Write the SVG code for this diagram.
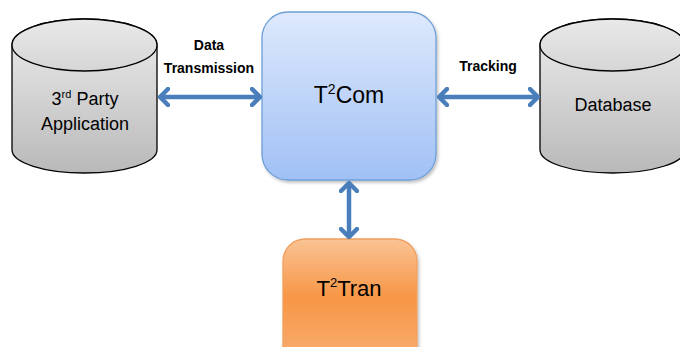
<svg xmlns="http://www.w3.org/2000/svg" width="680" height="347" viewBox="0 0 680 347">
<defs>
<linearGradient id="gBody" x1="0" y1="0" x2="0" y2="1">
<stop offset="0" stop-color="#ededed"/><stop offset="1" stop-color="#b9b9b9"/>
</linearGradient>
<linearGradient id="gTop" x1="0" y1="0" x2="0" y2="1">
<stop offset="0" stop-color="#e9e9e9"/><stop offset="1" stop-color="#d6d6d6"/>
</linearGradient>
<linearGradient id="gBlue" x1="0" y1="0" x2="0" y2="1">
<stop offset="0" stop-color="#dee9fc"/><stop offset="1" stop-color="#a0c0f5"/>
</linearGradient>
<linearGradient id="gOrange" x1="0" y1="0" x2="0" y2="1">
<stop offset="0" stop-color="#fac394"/><stop offset="0.45" stop-color="#f79646"/><stop offset="1" stop-color="#f9b078"/>
</linearGradient>
<marker id="ah" viewBox="0 0 12 20" refX="10" refY="10" markerWidth="12" markerHeight="20" markerUnits="userSpaceOnUse" orient="auto-start-reverse">
<path d="M2 2 L10 10 L2 18" fill="none" stroke="#4a7ebb" stroke-width="4.5" stroke-linecap="round" stroke-linejoin="round"/>
</marker>
<filter id="sh" x="-10%" y="-10%" width="125%" height="125%">
<feDropShadow dx="1.5" dy="2" stdDeviation="1.5" flood-color="#000" flood-opacity="0.25"/>
</filter>
</defs>
<style>
.cyl{fill:url(#gBody);stroke:#000;stroke-width:1.3}
.cylTop{fill:url(#gTop);stroke:#000;stroke-width:1.3}
.node{font-family:"Liberation Sans",Arial,sans-serif;fill:#000;text-anchor:middle}
.lbl{font-family:"Liberation Sans",Arial,sans-serif;font-weight:bold;font-size:14px;fill:#000;text-anchor:middle}
.conn{stroke:#4a7ebb;stroke-width:4.5;fill:none;marker-start:url(#ah);marker-end:url(#ah)}
</style>
<g id="app">
<path class="cyl" d="M12 45 L12 150 A72.5 23 0 0 0 157 150 L157 45 A72.5 26 0 0 0 12 45 Z"/>
<ellipse class="cylTop" cx="84.5" cy="45" rx="72.5" ry="26"/>
<text class="node" x="85" y="105" font-size="18">3<tspan font-size="11" dy="-7">rd</tspan><tspan dy="7"> Party</tspan></text>
<text class="node" x="85" y="130" font-size="18">Application</text>
</g>
<g id="db">
<path class="cyl" d="M540 45 L540 150 A72.5 23 0 0 0 685 150 L685 45 A72.5 26 0 0 0 540 45 Z"/>
<ellipse class="cylTop" cx="612.5" cy="45" rx="72.5" ry="26"/>
<text class="node" x="613" y="111" font-size="18">Database</text>
</g>
<g id="t2com">
<rect x="262" y="12" width="174" height="168" rx="26" fill="url(#gBlue)" stroke="#6e9fd6" stroke-width="1.3" filter="url(#sh)"/>
<text class="node" x="349" y="103" font-size="23">T<tspan font-size="14" dy="-9">2</tspan><tspan dy="9">Com</tspan></text>
</g>
<g id="t2tran">
<rect x="283" y="239" width="134" height="130" rx="22" fill="url(#gOrange)" stroke="#f0a060" stroke-width="1.3" filter="url(#sh)"/>
<text class="node" x="349" y="296" font-size="22">T<tspan font-size="13" dy="-9">2</tspan><tspan dy="9">Tran</tspan></text>
</g>
<g id="connectors">
<line class="conn" x1="160" y1="97" x2="260" y2="97"/>
<line class="conn" x1="439" y1="97" x2="538" y2="97"/>
<line class="conn" x1="349" y1="183" x2="349" y2="237"/>
<text class="lbl" x="209" y="50">Data</text>
<text class="lbl" x="209" y="73">Transmission</text>
<text class="lbl" x="488" y="71">Tracking</text>
</g>
</svg>
